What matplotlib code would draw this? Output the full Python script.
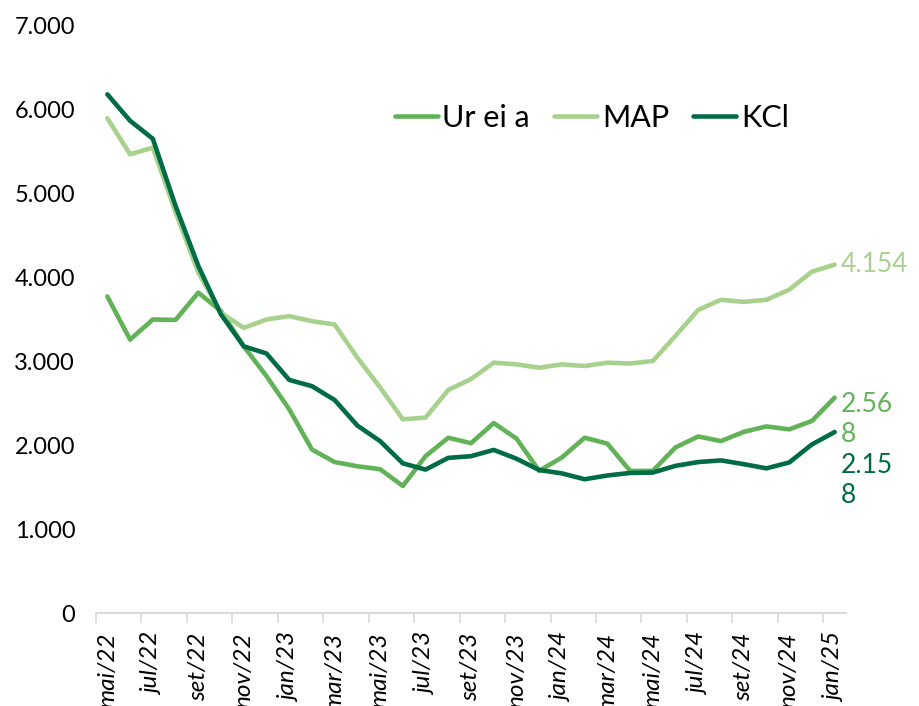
import numpy as np
import matplotlib.pyplot as plt

# monthly prices, mai/22 .. jan/25
months = ["mai/22", "jun/22", "jul/22", "ago/22", "set/22", "out/22", "nov/22", "dez/22",
          "jan/23", "fev/23", "mar/23", "abr/23", "mai/23", "jun/23", "jul/23", "ago/23",
          "set/23", "out/23", "nov/23", "dez/23", "jan/24", "fev/24", "mar/24", "abr/24",
          "mai/24", "jun/24", "jul/24", "ago/24", "set/24", "out/24", "nov/24", "dez/24",
          "jan/25"]
ureia = [3775, 3260, 3500, 3495, 3820, 3600, 3180, 2825, 2430, 1950, 1800, 1750,
         1715, 1515, 1870, 2090, 2025, 2265, 2080, 1695, 1855, 2090, 2020, 1695,
         1695, 1975, 2105, 2050, 2160, 2225, 2190, 2290, 2568]
map_ = [5900, 5470, 5550, 4780, 4060, 3580, 3400, 3500, 3540, 3480, 3440, 3045,
        2690, 2310, 2330, 2660, 2790, 2985, 2965, 2925, 2965, 2945, 2985, 2975,
        3005, 3305, 3615, 3735, 3710, 3735, 3855, 4070, 4154]
kcl = [6185, 5870, 5655, 4855, 4140, 3560, 3180, 3095, 2780, 2705, 2540, 2235,
       2050, 1785, 1710, 1850, 1870, 1945, 1840, 1705, 1665, 1595, 1640, 1670,
       1675, 1755, 1800, 1820, 1775, 1725, 1795, 2010, 2158]
end_labels = ["4.154", "2.56\n8", "2.15\n8"]

c_ureia = "#62b358"
c_map = "#a9d18e"
c_kcl = "#006c45"

plt.rcParams['font.family'] = ['Lato', 'DejaVu Sans']

fig = plt.figure(figsize=(9.19, 7.06), dpi=100)
ax = fig.add_axes([96 / 919, 1 - 613 / 706, 750 / 919, 587 / 706])

x = np.arange(len(months))
ax.plot(x, ureia, color=c_ureia, lw=3.3, label="Ur ei a", solid_capstyle="round")
ax.plot(x, map_, color=c_map, lw=3.3, label="MAP", solid_capstyle="round")
ax.plot(x, kcl, color=c_kcl, lw=3.3, label="KCl", solid_capstyle="round")

ax.set_xlim(-0.5, len(months) - 0.5)
ax.set_ylim(0, 7000)
ax.set_yticks(range(0, 7001, 1000))
ax.set_yticklabels(["0" if v == 0 else f"{v // 1000}.000" for v in range(0, 7001, 1000)],
                   fontsize=17)
ax.tick_params(axis="y", length=0, pad=15)

ax.set_xticks(x[::2])
ax.set_xticklabels(months[::2], rotation=90, fontsize=17.5, style="italic", va="top")
ax.set_xticks(x[::2] - 0.5, minor=True)
ax.tick_params(axis="x", which="major", length=0, pad=14)
ax.tick_params(axis="x", which="minor", length=7, color="#d9d9d9", width=1.2)

for s in ["top", "right", "left"]:
    ax.spines[s].set_visible(False)
ax.spines["bottom"].set_color("#d9d9d9")
ax.spines["bottom"].set_linewidth(1.5)

# end labels
ax.text(x[-1] + 0.25, map_[-1], end_labels[0], color=c_map, fontsize=19, va="center")
ax.text(x[-1] + 0.25, ureia[-1] + 70, end_labels[1], color=c_ureia, fontsize=19, va="top",
        linespacing=1.25)
ax.text(x[-1] + 0.25, kcl[-1] - 250, end_labels[2], color=c_kcl, fontsize=19, va="top",
        linespacing=1.25)

ax.legend(loc="center left", bbox_to_anchor=(-0.015 + 295 / 750, 1 - 92 / 587), ncol=3,
          frameon=False, fontsize=22, handlelength=1.4, handletextpad=0.15,
          columnspacing=0.8, borderpad=0)

fig.savefig("out.png", dpi=100)
